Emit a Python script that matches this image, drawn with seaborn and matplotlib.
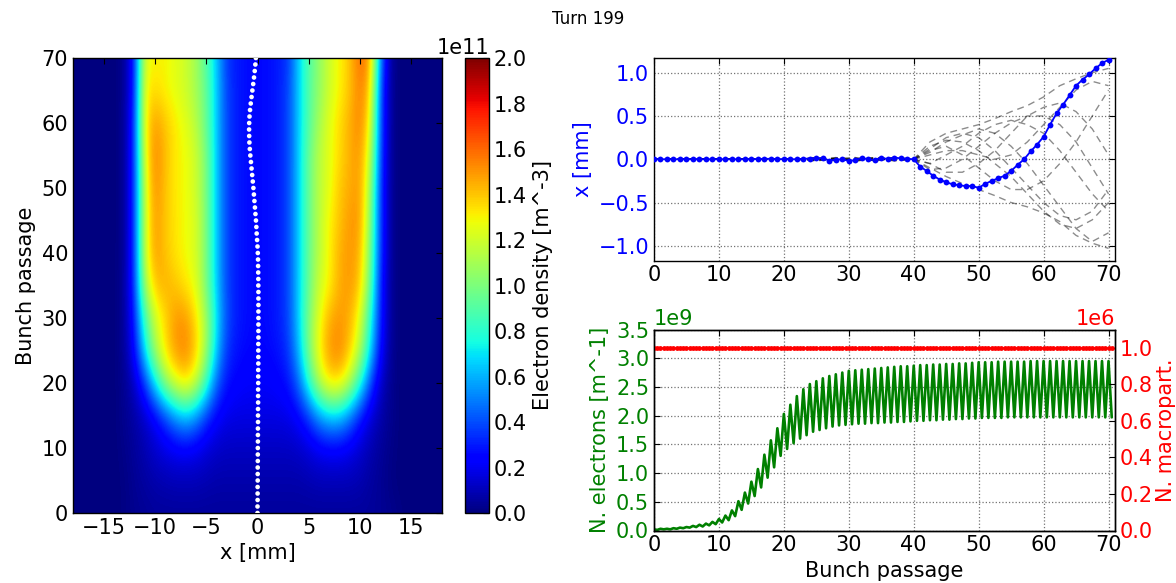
import numpy as np
import pandas as pd
import matplotlib
matplotlib.use("Agg")
import matplotlib.pyplot as plt
import seaborn as sns

# ---------------------------------------------------------------- data
bunch_passage = list(range(71))

# Left panel: electron density map, values in units of 1e10 m^-3
density_x_mm = list(range(-18, 19))
density_bunch = [0, 5, 10, 15, 20, 25, 30, 35, 40, 45, 50, 55, 60, 65, 70]
density_1e10 = [
    [0, 0, 0, 0, 0, 0.1, 0.3, 0.4, 0.5, 0.5, 0.5, 0.5, 0.5, 0.5, 0.5, 0.5, 0.5, 0.5, 0.5, 0.5, 0.5, 0.5, 0.5, 0.5, 0.5, 0.5, 0.5, 0.5, 0.5, 0.5, 0.4, 0.3, 0.1, 0, 0, 0, 0],
    [0, 0, 0, 0, 0, 0.1, 0.4, 0.6, 0.8, 0.9, 1.0, 1.0, 1.0, 0.9, 0.8, 0.8, 0.8, 0.8, 0.8, 0.8, 0.8, 0.8, 0.8, 0.9, 1.0, 1.0, 1.0, 1.0, 0.9, 0.6, 0.4, 0.1, 0, 0, 0, 0, 0],
    [0, 0, 0, 0, 0, 0.2, 0.5, 0.9, 1.4, 1.8, 2.1, 2.2, 2.0, 1.6, 1.3, 1.2, 1.2, 1.2, 1.2, 1.2, 1.2, 1.2, 1.3, 1.6, 2.0, 2.2, 2.2, 1.9, 1.4, 0.9, 0.5, 0.2, 0, 0, 0, 0, 0],
    [0, 0, 0, 0, 0, 0.3, 0.7, 1.3, 2.3, 3.8, 5.5, 6.5, 5.5, 3.6, 2.4, 1.9, 1.8, 1.8, 1.8, 1.8, 1.8, 1.9, 2.4, 3.6, 5.5, 6.6, 6.5, 5.0, 3.0, 1.6, 0.8, 0.3, 0, 0, 0, 0, 0],
    [0, 0, 0, 0, 0, 0.3, 1.2, 3.5, 7.0, 10.5, 12.5, 13.5, 12.0, 8.5, 4.5, 2.8, 2.4, 2.2, 2.2, 2.2, 2.4, 2.8, 4.5, 8.0, 11.5, 13.5, 13.5, 11.5, 8.0, 4.0, 1.3, 0.3, 0, 0, 0, 0, 0],
    [0, 0, 0, 0, 0, 0.4, 2.5, 7.0, 11.0, 13.5, 15.0, 15.5, 14.0, 11.0, 6.5, 3.5, 2.8, 2.6, 2.5, 2.6, 2.8, 3.5, 6.0, 10.0, 13.0, 15.0, 15.5, 14.0, 11.5, 7.0, 2.5, 0.4, 0, 0, 0, 0, 0],
    [0, 0, 0, 0, 0, 0.4, 3.0, 8.5, 12.0, 13.5, 15.0, 15.0, 13.5, 11.0, 7.0, 4.0, 3.0, 2.7, 2.6, 2.7, 3.0, 3.8, 6.5, 10.0, 12.5, 14.5, 15.0, 14.5, 12.5, 8.0, 3.0, 0.4, 0, 0, 0, 0, 0],
    [0, 0, 0, 0, 0, 0.4, 3.5, 11.0, 14.0, 14.5, 14.0, 13.3, 12.5, 10.0, 6.5, 3.8, 3.0, 2.7, 2.6, 2.7, 3.0, 3.8, 6.5, 9.5, 12.0, 13.0, 14.5, 15.0, 14.0, 9.5, 3.0, 0.4, 0, 0, 0, 0, 0],
    [0, 0, 0, 0, 0, 0.3, 3.5, 12.0, 15.0, 14.0, 13.3, 12.8, 12.3, 10.0, 6.5, 3.8, 3.0, 2.7, 2.6, 2.7, 3.0, 3.8, 6.5, 9.5, 11.5, 13.0, 14.5, 15.0, 14.5, 10.0, 3.5, 0.4, 0, 0, 0, 0, 0],
    [0, 0, 0, 0, 0, 0.3, 3.5, 12.0, 15.0, 14.0, 13.3, 12.8, 12.3, 10.0, 6.5, 3.8, 3.0, 2.7, 2.6, 2.7, 3.0, 3.8, 6.5, 9.5, 11.5, 13.0, 14.0, 15.0, 15.0, 10.5, 3.5, 0.4, 0, 0, 0, 0, 0],
    [0, 0, 0, 0, 0, 0.3, 3.5, 12.0, 15.3, 14.0, 13.2, 12.8, 12.0, 10.0, 6.5, 3.8, 3.0, 2.7, 2.6, 2.7, 3.0, 3.8, 6.5, 9.5, 11.5, 12.5, 14.0, 14.5, 15.0, 11.0, 3.5, 0.4, 0, 0, 0, 0, 0],
    [0, 0, 0, 0, 0, 0.3, 3.5, 12.5, 15.5, 14.2, 13.2, 12.8, 12.0, 10.0, 6.5, 3.8, 3.0, 2.7, 2.6, 2.7, 3.0, 3.8, 6.5, 9.5, 11.5, 12.5, 13.5, 14.5, 15.0, 12.0, 3.8, 0.4, 0, 0, 0, 0, 0],
    [0, 0, 0, 0, 0, 0.3, 3.5, 13.0, 15.0, 14.0, 13.2, 12.5, 11.5, 9.5, 6.5, 3.8, 3.0, 2.7, 2.6, 2.7, 3.0, 3.8, 6.5, 9.0, 11.0, 12.5, 13.5, 14.5, 15.5, 13.0, 4.0, 0.4, 0, 0, 0, 0, 0],
    [0, 0, 0, 0, 0, 0.3, 3.0, 13.0, 13.5, 13.0, 12.5, 12.0, 11.0, 9.5, 6.5, 3.8, 3.0, 2.7, 2.6, 2.7, 3.0, 3.8, 6.5, 9.0, 10.5, 12.0, 13.0, 14.0, 15.5, 14.0, 4.0, 0.4, 0, 0, 0, 0, 0],
    [0, 0, 0, 0, 0, 0.3, 3.0, 12.5, 13.0, 13.0, 12.5, 12.0, 11.0, 9.0, 6.5, 3.5, 3.0, 2.7, 2.6, 2.7, 3.0, 3.5, 6.5, 9.0, 10.5, 12.0, 13.0, 14.0, 16.0, 15.0, 5.0, 0.4, 0, 0, 0, 0, 0],
]

# white dotted trace on the density map (x [mm] per bunch passage)
trace_x_mm = [
    0.00, 0.00, 0.01, 0.01, 0.01, 0.02, 0.02, 0.02, 0.03, 0.03,
    0.03, 0.04, 0.04, 0.04, 0.05, 0.05, 0.05, 0.06, 0.06, 0.06,
    0.07, 0.07, 0.07, 0.08, 0.08, 0.08, 0.08, 0.09, 0.09, 0.09,
    0.09, 0.09, 0.09, 0.09, 0.09, 0.08, 0.08, 0.07, 0.06, 0.05,
    0.03, 0.00, -0.04, -0.08, -0.11, -0.15, -0.20, -0.25, -0.30, -0.35,
    -0.40, -0.46, -0.52, -0.58, -0.64, -0.70, -0.75, -0.79, -0.81, -0.82,
    -0.81, -0.78, -0.73, -0.66, -0.58, -0.50, -0.42, -0.34, -0.27, -0.21,
    -0.16,
]

# Top right: bunch centroid x [mm], current turn
centroid_x_mm = [
    0.0, 0.0, 0.0, 0.0, 0.0, 0.0, 0.0, 0.0, 0.0, 0.0,
    0.0, 0.0, 0.0, 0.0, 0.0, 0.0, 0.003, 0.005, 0.005, 0.0,
    0.003, 0.0, 0.0, 0.005, 0.008, 0.01, 0.012, -0.015, -0.005, 0.0,
    -0.02, -0.01, 0.015, 0.0, -0.01, 0.02, 0.0, 0.02, 0.01, 0.005,
    0.0, -0.085, -0.135, -0.19, -0.235, -0.265, -0.29, -0.30, -0.31, -0.31,
    -0.33, -0.285, -0.25, -0.22, -0.19, -0.135, -0.065, 0.0, 0.09, 0.17,
    0.26, 0.40, 0.53, 0.63, 0.74, 0.85, 0.92, 0.98, 1.05, 1.11,
    1.15,
]

# previous turns (grey dashed)
prev_bunch = [0, 22, 25, 28, 31, 34, 37, 40, 42.5, 45, 47.5, 50, 52.5, 55, 57.5, 60, 62.5, 65, 67.5, 70]
prev_turn_1 = [0, 0, 0.01, -0.02, 0.015, -0.01, 0.02, 0, 0.2, 0.3, 0.35, 0.4, 0.47, 0.55, 0.62, 0.72, 0.85, 0.93, 1.0, 1.05]
prev_turn_2 = [0, 0, -0.01, 0.02, -0.02, 0.01, 0.0, 0, -0.1, -0.2, -0.28, -0.35, -0.42, -0.5, -0.55, -0.62, -0.72, -0.88, -0.97, -1.03]
prev_turn_3 = [0, 0, 0.02, 0.0, -0.015, 0.02, -0.01, 0, 0.15, 0.22, 0.2, 0.1, -0.05, -0.2, -0.4, -0.6, -0.75, -0.8, -0.7, -0.5]
prev_turn_4 = [0, 0, -0.02, 0.01, 0.02, -0.02, 0.01, 0, -0.05, 0.05, 0.15, 0.3, 0.4, 0.45, 0.4, 0.3, 0.1, -0.15, -0.4, -0.6]
prev_turn_5 = [0, 0, 0.0, 0.015, -0.02, 0.0, 0.02, 0, 0.05, 0.1, 0.1, 0.05, 0.0, 0.05, 0.2, 0.4, 0.6, 0.8, 0.9, 0.85]
prev_turn_6 = [0, 0, 0.01, -0.01, 0.0, 0.015, -0.02, 0, -0.05, -0.15, -0.15, -0.05, 0.1, 0.3, 0.5, 0.6, 0.65, 0.55, 0.35, 0.05]
prev_turn_7 = [0, 0, -0.015, 0.0, 0.01, -0.015, 0.015, 0, 0.1, 0.15, 0.05, -0.1, -0.25, -0.35, -0.35, -0.25, -0.05, 0.2, 0.5, 0.8]
prev_turn_8 = [0, 0, 0.02, -0.015, 0.0, 0.01, -0.015, 0, 0.12, 0.25, 0.3, 0.25, 0.1, -0.1, -0.3, -0.5, -0.65, -0.7, -0.6, -0.35]
prev_turn_9 = [0, 0, 0.01, 0.0, -0.01, 0.02, 0.0, 0, -0.12, -0.1, 0.0, 0.15, 0.3, 0.42, 0.5, 0.5, 0.4, 0.2, -0.1, -0.4]
prev_turn_10 = [0, 0, -0.01, 0.01, 0.0, -0.01, 0.01, 0, 0.08, 0.2, 0.28, 0.35, 0.3, 0.15, -0.05, -0.3, -0.55, -0.8, -0.95, -0.85]
prev_turns = [prev_turn_1, prev_turn_2, prev_turn_3, prev_turn_4, prev_turn_5,
              prev_turn_6, prev_turn_7, prev_turn_8, prev_turn_9, prev_turn_10]

# Bottom right: number of electrons [1e9 m^-1], peaks (at each bunch) and troughs (half way)
ne_peak_1e9 = [
    0.02, 0.03, 0.03, 0.04, 0.05, 0.06, 0.08, 0.10, 0.12, 0.15,
    0.20, 0.26, 0.35, 0.51, 0.66, 0.85, 1.07, 1.32, 1.57, 1.78,
    2.03, 2.19, 2.34, 2.46, 2.55, 2.60, 2.65, 2.69, 2.72, 2.75,
    2.78, 2.79, 2.80, 2.81, 2.82, 2.83, 2.84, 2.85, 2.86, 2.86,
    2.87, 2.88, 2.88, 2.89, 2.89, 2.90, 2.90, 2.91, 2.91, 2.92,
    2.93, 2.93, 2.93, 2.94, 2.94, 2.94, 2.94, 2.94, 2.95, 2.95,
    2.95, 2.95, 2.95, 2.95, 2.95, 2.95, 2.95, 2.95, 2.95, 2.95,
    2.95,
]
ne_trough_1e9 = [
    0.01, 0.02, 0.02, 0.03, 0.04, 0.05, 0.06, 0.07, 0.09, 0.11,
    0.14, 0.18, 0.25, 0.36, 0.47, 0.60, 0.75, 0.92, 1.10, 1.30,
    1.42, 1.52, 1.60, 1.66, 1.72, 1.75, 1.78, 1.81, 1.83, 1.84,
    1.85, 1.86, 1.86, 1.87, 1.87, 1.88, 1.88, 1.89, 1.89, 1.90,
    1.91, 1.91, 1.92, 1.92, 1.93, 1.93, 1.94, 1.94, 1.95, 1.95,
    1.96, 1.96, 1.96, 1.96, 1.97, 1.97, 1.97, 1.97, 1.97, 1.97,
    1.97, 1.97, 1.97, 1.97, 1.97, 1.97, 1.97, 1.97, 1.97, 1.97,
    1.97,
]
# number of macroparticles [1e6], sampled every half bunch passage
n_macro_1e6 = [
    1.0, 1.0, 1.0, 1.0, 1.0, 1.0, 1.0, 1.0, 1.0, 1.0, 1.0, 1.0, 1.0, 1.0, 1.0, 1.0, 1.0, 1.0, 1.0, 1.0,
    1.0, 1.0, 1.0, 1.0, 1.0, 1.0, 1.0, 1.0, 1.0, 1.0, 1.0, 1.0, 1.0, 1.0, 1.0, 1.0, 1.0, 1.0, 1.0, 1.0,
    1.0, 1.0, 1.0, 1.0, 1.0, 1.0, 1.0, 1.0, 1.0, 1.0, 1.0, 1.0, 1.0, 1.0, 1.0, 1.0, 1.0, 1.0, 1.0, 1.0,
    1.0, 1.0, 1.0, 1.0, 1.0, 1.0, 1.0, 1.0, 1.0, 1.0, 1.0, 1.0, 1.0, 1.0, 1.0, 1.0, 1.0, 1.0, 1.0, 1.0,
    1.0, 1.0, 1.0, 1.0, 1.0, 1.0, 1.0, 1.0, 1.0, 1.0, 1.0, 1.0, 1.0, 1.0, 1.0, 1.0, 1.0, 1.0, 1.0, 1.0,
    1.0, 1.0, 1.0, 1.0, 1.0, 1.0, 1.0, 1.0, 1.0, 1.0, 1.0, 1.0, 1.0, 1.0, 1.0, 1.0, 1.0, 1.0, 1.0, 1.0,
    1.0, 1.0, 1.0, 1.0, 1.0, 1.0, 1.0, 1.0, 1.0, 1.0, 1.0, 1.0, 1.0, 1.0, 1.0, 1.0, 1.0, 1.0, 1.0, 1.0,
    1.0, 1.0,
]

xticks_map = [-15, -10, -5, 0, 5, 10, 15]
yticks_map = [0, 10, 20, 30, 40, 50, 60, 70]
cbar_ticks_1e11 = [0.0, 0.2, 0.4, 0.6, 0.8, 1.0, 1.2, 1.4, 1.6, 1.8, 2.0]
xticks_bunch = [0, 10, 20, 30, 40, 50, 60, 70]
yticks_x = [-1.0, -0.5, 0.0, 0.5, 1.0]
yticks_ne_1e9 = [0.0, 0.5, 1.0, 1.5, 2.0, 2.5, 3.0, 3.5]
yticks_mp_1e6 = [0.0, 0.2, 0.4, 0.6, 0.8, 1.0]

# ---------------------------------------------------------------- style
sns.set_style("white")
plt.rcParams.update({
    "font.family": ["DejaVu Sans"],
    "font.size": 15,
    "axes.edgecolor": "black",
    "axes.labelcolor": "black",
    "text.color": "black",
    "xtick.color": "black",
    "ytick.color": "black",
    "xtick.direction": "in",
    "ytick.direction": "in",
    "xtick.major.size": 4,
    "ytick.major.size": 4,
    "axes.linewidth": 1.0,
})

W, H = 1176, 583
fig = plt.figure(figsize=(W / 100, H / 100), dpi=100)


def box(l, t, r, b):
    return [l / W, 1 - b / H, (r - l) / W, (b - t) / H]


ax_map = fig.add_axes(box(73, 58, 442, 513))
cax = fig.add_axes(box(465, 58, 489, 513))
ax_x = fig.add_axes(box(654, 58, 1115, 260.5))
ax_ne = fig.add_axes(box(654, 329.5, 1115, 530.5))

# ---------------------------------------------------------------- density map
xs = np.array(density_x_mm, float)
ys = np.array(density_bunch, float)
Z = np.array(density_1e10, float) * 1e10
dx = xs[1] - xs[0]
dy = ys[1] - ys[0]
img = ax_map.imshow(Z, cmap="jet", vmin=0, vmax=2e11, origin="lower",
                    aspect="auto", interpolation="bicubic",
                    extent=[xs[0] - dx / 2, xs[-1] + dx / 2, ys[0] - dy / 2, ys[-1] + dy / 2])
sns.scatterplot(x=trace_x_mm, y=bunch_passage, ax=ax_map, color="white", s=11,
                edgecolor="none", linewidth=0, zorder=5)
ax_map.set_xlim(-18, 18)
ax_map.set_ylim(0, 70)
ax_map.set_xticks(xticks_map)
ax_map.set_yticks(yticks_map)
ax_map.tick_params(top=True, right=True, labelsize=15)
ax_map.set_xlabel("x [mm]", fontsize=15)
ax_map.set_ylabel("Bunch passage", fontsize=15)

cb = fig.colorbar(img, cax=cax, ticks=[v * 1e11 for v in cbar_ticks_1e11])
cb.ax.tick_params(labelsize=15, direction="in")
cb.set_label("Electron density [m^-3]", fontsize=15)
cb.ax.yaxis.get_offset_text().set_fontsize(15)

# ---------------------------------------------------------------- centroid plot
for tr in prev_turns:
    sns.lineplot(x=prev_bunch, y=tr, ax=ax_x, color="black", alpha=0.45,
                 linestyle=(0, (5, 3.5)), linewidth=1.0, sort=False, estimator=None)
sns.lineplot(x=bunch_passage, y=centroid_x_mm, ax=ax_x, color="blue",
             linewidth=1.3, marker="o", markersize=4.2, markeredgewidth=0,
             sort=False, estimator=None, zorder=4)
ax_x.set_xlim(0, 71)
ax_x.set_ylim(-1.17, 1.17)
ax_x.set_xticks(xticks_bunch)
ax_x.set_yticks(yticks_x)
ax_x.grid(True, linestyle=":", color="0.45", linewidth=0.9)
ax_x.tick_params(axis="y", labelcolor="blue", labelsize=15)
ax_x.tick_params(axis="x", labelsize=15)
ax_x.tick_params(top=True, right=True)
ax_x.set_ylabel("x [mm]", color="blue", fontsize=15)

# ---------------------------------------------------------------- electrons plot
t_half = []
ne_zigzag = []
for k, (p, q) in enumerate(zip(ne_peak_1e9, ne_trough_1e9)):
    t_half += [k, k + 0.5]
    ne_zigzag += [p * 1e9, q * 1e9]

sns.lineplot(x=t_half, y=ne_zigzag, ax=ax_ne, color="green", linewidth=1.9,
             sort=False, estimator=None)
ax_ne.set_xlim(0, 71)
ax_ne.set_ylim(0, 3.5e9)
ax_ne.set_xticks(xticks_bunch)
ax_ne.set_yticks([v * 1e9 for v in yticks_ne_1e9])
ax_ne.grid(True, linestyle=":", color="0.45", linewidth=0.9)
ax_ne.tick_params(axis="y", labelcolor="green", labelsize=15)
ax_ne.tick_params(axis="x", labelsize=15, top=True)
ax_ne.set_ylabel("N. electrons [m^-1]", color="green", fontsize=15)
ax_ne.set_xlabel("Bunch passage", fontsize=15)
ax_ne.yaxis.get_offset_text().set_color("green")
ax_ne.yaxis.get_offset_text().set_fontsize(15)

ax_mp = ax_ne.twinx()
sns.lineplot(x=t_half, y=[v * 1e6 for v in n_macro_1e6], ax=ax_mp, color="red",
             linewidth=1.2, marker="o", markersize=3.5, markeredgewidth=0,
             sort=False, estimator=None)
ax_mp.set_ylim(0, 1.1e6)
ax_mp.set_yticks([v * 1e6 for v in yticks_mp_1e6])
ax_mp.tick_params(axis="y", labelcolor="red", labelsize=15, direction="in")
ax_mp.set_ylabel("N. macropart.", color="red", fontsize=15, labelpad=2)
ax_mp.yaxis.get_offset_text().set_color("red")
ax_mp.yaxis.get_offset_text().set_fontsize(15)
ax_mp.grid(False)

fig.suptitle("Turn 199", y=0.982, fontsize=12)

fig.savefig("out.png", dpi=100)
